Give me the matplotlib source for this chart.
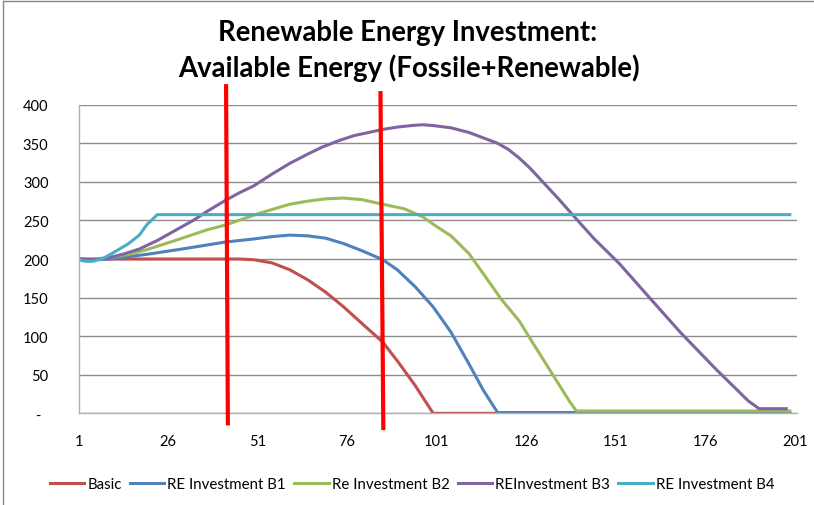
import matplotlib
matplotlib.use('Agg')
import matplotlib.pyplot as plt
from matplotlib import ticker
from matplotlib.lines import Line2D

# values (period -> available energy)
basic_x = [1, 46, 50, 55, 60, 65, 70, 75, 80, 86, 90, 95, 100, 200]
basic_y = [200, 200, 199, 195, 186, 173, 157, 138, 117, 92, 68, 36, 0, 0]

b1_x = [1, 5, 10, 20, 30, 42, 50, 55, 60, 65, 70, 75, 80, 86, 90, 95, 100,
        105, 110, 114, 118, 200]
b1_y = [200, 199, 200, 206, 213, 222, 226, 229, 231, 230, 227, 220, 211, 199,
        186, 164, 138, 105, 64, 30, 1, 1]

b2_x = [1, 5, 10, 15, 20, 28, 37, 42, 47, 52, 60, 65, 70, 75, 80, 86, 92, 97,
        101, 105, 110, 114, 119, 124, 128, 133, 138, 140, 200]
b2_y = [200, 200, 202, 206, 212, 224, 238, 244, 252, 260, 271, 275, 278, 279,
        277, 271, 265, 255, 242, 230, 207, 181, 148, 120, 90, 53, 16, 3, 3]

b3_x = [1, 5, 9, 14, 18, 23, 28, 33, 37, 42, 46, 50, 55, 60, 65, 69, 74, 78,
        82, 86, 90, 94, 97, 100, 105, 110, 114, 118, 121, 124, 127, 130, 135,
        139, 145, 152, 160, 169, 179, 188, 191, 199]
b3_y = [200, 199, 201, 207, 213, 224, 237, 250, 262, 276, 286, 295, 310, 324,
        336, 345, 354, 360, 364, 368, 371, 373, 374, 373, 370, 364, 357, 350,
        342, 331, 318, 303, 278, 257, 226, 194, 152, 105, 57, 16, 6, 6]

b4_x = [1, 3, 5, 8, 11, 15, 18, 20, 23, 200]
b4_y = [199, 197, 197, 201, 209, 220, 231, 244, 257.5, 257.5]

names = ['Basic', 'RE Investment B1', 'Re Investment B2', 'REInvestment B3',
         'RE Investment B4']
colors = ['#C0504D', '#4F81BD', '#9BBB59', '#8064A2', '#4BACC6']

# the two red marker lines drawn over the chart (top x, bottom x, top y, bottom y)
mark_top_x = [42.2, 85.3]
mark_bot_x = [42.7, 86.1]
mark_top_y = [424, 415]
mark_bot_y = [-13, -19]

xticks = list(range(1, 202, 25))
yticks = list(range(0, 401, 50))

plt.rcParams['font.family'] = ['Lato', 'DejaVu Sans']

fig = plt.figure(figsize=(8.14, 5.06), dpi=100)
ax = fig.add_axes([78.5 / 814, 1 - 414.3 / 506, (796.7 - 78.5) / 814, (414.3 - 105.7) / 506])

series = [(basic_x, basic_y), (b1_x, b1_y), (b2_x, b2_y), (b3_x, b3_y), (b4_x, b4_y)]
for (xs, ys), name, c in zip(series, names, colors):
    ax.plot(xs, ys, color=c, lw=2.2, label=name, solid_capstyle='butt')

for tx, bx, ty, by in zip(mark_top_x, mark_bot_x, mark_top_y, mark_bot_y):
    ax.plot([tx, bx], [ty, by], color='#FF0000', lw=3.0, clip_on=False, zorder=5)

ax.set_xlim(1, 201.5)
ax.set_ylim(0, 400)
ax.set_xticks(xticks)
ax.set_yticks(yticks)
ax.yaxis.set_major_formatter(ticker.FuncFormatter(
    lambda v, p: '-  ' if v == 0 else '%d' % v))
ax.tick_params(axis='both', length=0, labelsize=10.5, colors='black')
ax.tick_params(axis='y', pad=21.6)
ax.tick_params(axis='x', pad=15)
ax.grid(axis='y', color='#8c8c8c', lw=1)
ax.set_axisbelow(True)
for s in ['top', 'right']:
    ax.spines[s].set_visible(False)
for s in ['left', 'bottom']:
    ax.spines[s].set_color('#b0b0b0')
    ax.spines[s].set_linewidth(1)

fig.text(408 / 814, 1 - 33 / 506, 'Renewable Energy Investment:', ha='center',
         va='center', fontsize=19.8, fontweight='bold')
fig.text(409 / 814, 1 - 68 / 506, 'Available Energy (Fossile+Renewable)', ha='center',
         va='center', fontsize=19.8, fontweight='bold')

handles = [Line2D([], [], color=c, lw=2.2) for c in colors]
fig.legend(handles, names, loc='center', bbox_to_anchor=(412 / 814, 1 - 485 / 506),
           ncol=5, frameon=False, fontsize=10.8, handlelength=2.3, handletextpad=0.2,
           columnspacing=0.55)

# chart-area border (only left and top edges show in the crop)
fig.add_artist(Line2D([2.5 / 814, 2.5 / 814], [0, 1 - 1.5 / 506], color='#868686', lw=1,
                      transform=fig.transFigure))
fig.add_artist(Line2D([2.5 / 814, 1], [1 - 1.5 / 506, 1 - 1.5 / 506], color='#868686', lw=1,
                      transform=fig.transFigure))

fig.savefig('out.png', dpi=100)
